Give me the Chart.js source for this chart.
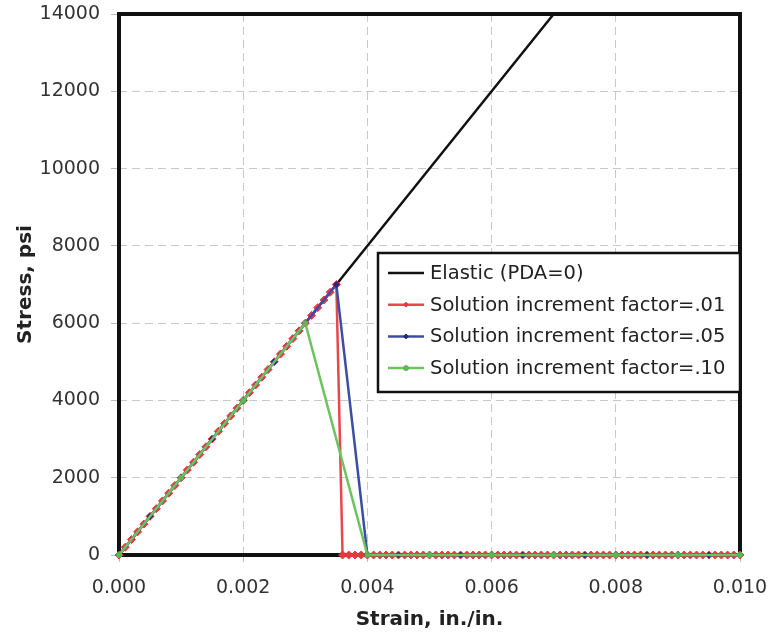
<!DOCTYPE html>
<html lang="en">
<head>
    <meta charset="UTF-8">
    <title>Stress vs Strain</title>
    <script src="https://cdn.jsdelivr.net/npm/chart.js"></script>
    <style>
        body {
            margin: 0;
            background: #fff;
        }
        #wrap {
            width: 773px;
            height: 636px;
        }
    </style>
</head>
<body>
    <div id="wrap">
        <canvas id="stressChart" width="773" height="636"></canvas>
    </div>
    <script>
        // values
        const elasticStrain = [0, 0.007];
        const elasticStress = [0, 14000];

        // factor .01 : one point every 0.0001
        const redStrain = [
            0.0000, 0.0001, 0.0002, 0.0003, 0.0004, 0.0005, 0.0006, 0.0007, 0.0008, 0.0009,
            0.0010, 0.0011, 0.0012, 0.0013, 0.0014, 0.0015, 0.0016, 0.0017, 0.0018, 0.0019,
            0.0020, 0.0021, 0.0022, 0.0023, 0.0024, 0.0025, 0.0026, 0.0027, 0.0028, 0.0029,
            0.0030, 0.0031, 0.0032, 0.0033, 0.0034, 0.0035, 0.0036, 0.0037, 0.0038, 0.0039,
            0.0040, 0.0041, 0.0042, 0.0043, 0.0044, 0.0045, 0.0046, 0.0047, 0.0048, 0.0049,
            0.0050, 0.0051, 0.0052, 0.0053, 0.0054, 0.0055, 0.0056, 0.0057, 0.0058, 0.0059,
            0.0060, 0.0061, 0.0062, 0.0063, 0.0064, 0.0065, 0.0066, 0.0067, 0.0068, 0.0069,
            0.0070, 0.0071, 0.0072, 0.0073, 0.0074, 0.0075, 0.0076, 0.0077, 0.0078, 0.0079,
            0.0080, 0.0081, 0.0082, 0.0083, 0.0084, 0.0085, 0.0086, 0.0087, 0.0088, 0.0089,
            0.0090, 0.0091, 0.0092, 0.0093, 0.0094, 0.0095, 0.0096, 0.0097, 0.0098, 0.0099,
            0.0100
        ];
        const redStress = [
            0, 200, 400, 600, 800, 1000, 1200, 1400, 1600, 1800,
            2000, 2200, 2400, 2600, 2800, 3000, 3200, 3400, 3600, 3800,
            4000, 4200, 4400, 4600, 4800, 5000, 5200, 5400, 5600, 5800,
            6000, 6200, 6400, 6600, 6800, 7000, 0, 0, 0, 0,
            0, 0, 0, 0, 0, 0, 0, 0, 0, 0,
            0, 0, 0, 0, 0, 0, 0, 0, 0, 0,
            0, 0, 0, 0, 0, 0, 0, 0, 0, 0,
            0, 0, 0, 0, 0, 0, 0, 0, 0, 0,
            0, 0, 0, 0, 0, 0, 0, 0, 0, 0,
            0, 0, 0, 0, 0, 0, 0, 0, 0, 0,
            0
        ];

        // factor .05 : one point every 0.0005
        const blueStrain = [
            0.0000, 0.0005, 0.0010, 0.0015, 0.0020, 0.0025, 0.0030, 0.0035,
            0.0040, 0.0045, 0.0050, 0.0055, 0.0060, 0.0065, 0.0070, 0.0075,
            0.0080, 0.0085, 0.0090, 0.0095, 0.0100
        ];
        const blueStress = [
            0, 1000, 2000, 3000, 4000, 5000, 6000, 7000,
            0, 0, 0, 0, 0, 0, 0, 0,
            0, 0, 0, 0, 0
        ];

        // factor .10 : one point every 0.001
        const greenStrain = [0.000, 0.001, 0.002, 0.003, 0.004, 0.005, 0.006, 0.007, 0.008, 0.009, 0.010];
        const greenStress = [0, 2000, 4000, 6000, 0, 0, 0, 0, 0, 0, 0];

        const seriesNames = [
            'Elastic (PDA=0)',
            'Solution increment factor=.01',
            'Solution increment factor=.05',
            'Solution increment factor=.10'
        ];

        const xTicks = [0, 0.002, 0.004, 0.006, 0.008, 0.010];
        const yMax = 14000;
        const yStep = 2000;

        function toPoints(xs, ys) {
            return xs.map((x, i) => ({ x: x, y: ys[i] }));
        }

        const FONT = "'DejaVu Sans', Verdana, sans-serif";

        // black frame around the plot, under the lines
        const framePlugin = {
            id: 'frame',
            beforeDatasetsDraw(chart) {
                const a = chart.chartArea;
                const ctx = chart.ctx;
                ctx.save();
                ctx.strokeStyle = '#111';
                ctx.lineWidth = 4;
                ctx.strokeRect(a.left, a.top, a.right - a.left, a.bottom - a.top);
                ctx.restore();
            }
        };

        // legend box drawn inside the plot, like the original
        const boxLegend = {
            id: 'boxLegend',
            afterDraw(chart) {
                const ctx = chart.ctx;
                const bx = 378, by = 253, bw = 362, bh = 139;
                ctx.save();
                ctx.fillStyle = '#fff';
                ctx.fillRect(bx, by, bw, bh);
                ctx.strokeStyle = '#111';
                ctx.lineWidth = 2.5;
                ctx.strokeRect(bx, by, bw, bh);
                ctx.font = '19.5px ' + FONT;
                ctx.textBaseline = 'middle';
                ctx.textAlign = 'left';
                chart.data.datasets.forEach((ds, i) => {
                    const y = 273 + i * 31.7;
                    ctx.strokeStyle = ds.borderColor;
                    ctx.lineWidth = 2.5;
                    ctx.beginPath();
                    ctx.moveTo(388, y);
                    ctx.lineTo(424, y);
                    ctx.stroke();
                    if (ds.pointRadius > 0) {
                        ctx.fillStyle = ds.pointBackgroundColor;
                        ctx.strokeStyle = ds.pointBorderColor;
                        ctx.lineWidth = 1;
                        Chart.helpers.drawPoint(ctx, {
                            pointStyle: ds.pointStyle,
                            radius: 2.5,
                            borderWidth: 1
                        }, 406, y);
                    }
                    ctx.fillStyle = '#222';
                    ctx.fillText(ds.label, 430, y + 1);
                });
                ctx.restore();
            }
        };

        function makeDataset(label, pts, color, markColor, style, radius, order) {
            return {
                label: label,
                data: pts,
                borderColor: color,
                backgroundColor: markColor,
                pointBackgroundColor: markColor,
                pointBorderColor: markColor,
                pointStyle: style,
                pointRadius: radius,
                pointBorderWidth: 1,
                borderWidth: 2.5,
                showLine: true,
                tension: 0,
                clip: false,
                order: order
            };
        }

        const ctx = document.getElementById('stressChart').getContext('2d');
        new Chart(ctx, {
            type: 'scatter',
            data: {
                datasets: [
                    makeDataset(seriesNames[0], toPoints(elasticStrain, elasticStress), '#111111', '#111111', 'circle', 0, 3),
                    makeDataset(seriesNames[1], toPoints(redStrain, redStress), '#e8474b', '#e23a3f', 'rectRot', 4, 2),
                    makeDataset(seriesNames[2], toPoints(blueStrain, blueStress), '#3b4ea6', '#262a7a', 'rectRot', 3, 1),
                    makeDataset(seriesNames[3], toPoints(greenStrain, greenStress), '#6cc360', '#5cb850', 'circle', 2.5, 0)
                ]
            },
            options: {
                responsive: false,
                animation: false,
                layout: {
                    padding: { left: 0, right: 33, top: 14, bottom: 0 }
                },
                plugins: {
                    legend: { display: false },
                    tooltip: { enabled: false }
                },
                scales: {
                    x: {
                        type: 'linear',
                        min: 0,
                        max: 0.010,
                        afterBuildTicks: (scale) => {
                            scale.ticks = xTicks.map(v => ({ value: v }));
                        },
                        afterFit: (scale) => {
                            scale.height = 81;
                            scale.paddingLeft = 0;
                            scale.paddingRight = 0;
                        },
                        ticks: {
                            color: '#333',
                            font: { family: FONT, size: 19 },
                            padding: 15,
                            maxRotation: 0,
                            callback: (v) => Number(v).toFixed(3)
                        },
                        grid: {
                            color: '#c8c8c8',
                            lineWidth: 1,
                            tickLength: 7,
                            tickColor: '#bbb'
                        },
                        border: { display: false, dash: [8, 5] },
                        title: {
                            display: true,
                            text: 'Strain, in./in.',
                            color: '#222',
                            font: { family: FONT, size: 20, weight: 'bold' },
                            padding: { top: 0, bottom: 4 }
                        }
                    },
                    y: {
                        type: 'linear',
                        min: 0,
                        max: yMax,
                        afterFit: (scale) => {
                            scale.width = 119;
                            scale.paddingTop = 0;
                            scale.paddingBottom = 0;
                        },
                        ticks: {
                            stepSize: yStep,
                            color: '#333',
                            font: { family: FONT, size: 19 },
                            padding: 11,
                            callback: (v) => String(v)
                        },
                        grid: {
                            color: '#c8c8c8',
                            lineWidth: 1,
                            tickLength: 8,
                            tickColor: '#bbb'
                        },
                        border: { display: false, dash: [8, 5] },
                        title: {
                            display: true,
                            text: 'Stress, psi',
                            color: '#222',
                            font: { family: FONT, size: 20, weight: 'bold' },
                            padding: { top: 14, bottom: 0 }
                        }
                    }
                }
            },
            plugins: [framePlugin, boxLegend]
        });
    </script>
</body>
</html>
